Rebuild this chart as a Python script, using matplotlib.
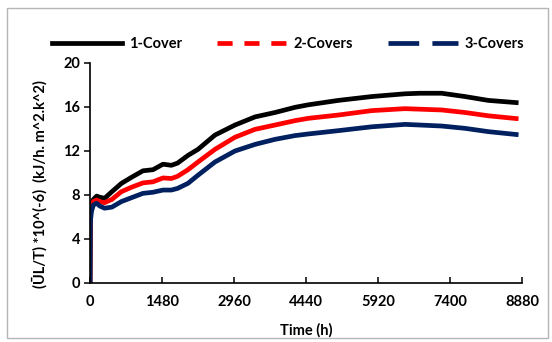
import matplotlib
matplotlib.use("Agg")
import matplotlib.pyplot as plt
from matplotlib.lines import Line2D
from matplotlib.patches import Rectangle

# Hourly time axis (h) and overall heat-loss parameter for each cover arrangement
hours = [0, 8, 30, 70, 137, 200, 300, 450, 644, 850, 1089, 1295, 1500, 1672,
         1800, 2014, 2220, 2569, 2980, 3392, 3803, 4214, 4488, 5105, 5790,
         6475, 6783, 7229, 7708, 8187, 8760]
one_cover = [0, 6.4, 7.2, 7.6, 7.9, 7.8, 7.7, 8.3, 9.05, 9.6, 10.2, 10.3, 10.8,
             10.7, 10.9, 11.6, 12.15, 13.45, 14.36, 15.1, 15.5, 15.97, 16.2,
             16.6, 16.95, 17.2, 17.25, 17.25, 16.95, 16.6, 16.4]
two_covers = [0, 6.0, 7.0, 7.4, 7.55, 7.4, 7.3, 7.6, 8.3, 8.7, 9.1, 9.2, 9.55,
              9.5, 9.7, 10.3, 11.0, 12.15, 13.25, 13.97, 14.36, 14.76, 14.97,
              15.27, 15.67, 15.85, 15.8, 15.73, 15.5, 15.2, 14.95]
three_covers = [0, 5.6, 6.5, 7.1, 7.25, 7.0, 6.8, 6.9, 7.4, 7.75, 8.15, 8.25,
                8.45, 8.45, 8.6, 9.06, 9.8, 11.0, 12.0, 12.6, 13.06, 13.4,
                13.55, 13.85, 14.2, 14.42, 14.36, 14.27, 14.06, 13.76, 13.5]

series_names = ["1-Cover", "2-Covers", "3-Covers"]
x_ticks = [0, 1480, 2960, 4440, 5920, 7400, 8880]
y_ticks = [0, 4, 8, 12, 16, 20]

plt.rcParams["font.family"] = ["Lato", "DejaVu Sans"]
plt.rcParams["font.weight"] = "bold"
FS = 10.5

W, H = 552, 342
fig = plt.figure(figsize=(W / 100, H / 100), dpi=100)
fig.patch.set_facecolor("white")

# light frame round the whole chart area
fig.patches.append(Rectangle((7 / W, 4 / H), 541 / W, 330 / H,
                             transform=fig.transFigure, fill=False,
                             edgecolor="#b5b5b5", linewidth=1.0))

ax = fig.add_axes([90 / W, 1 - 283 / H, 432 / W, 220 / H])

black, red, navy = "#000000", "#ff0000", "#002060"
lw = 3.4
ax.plot(hours, one_cover, color=black, lw=lw, solid_joinstyle="round")
ax.plot(hours, two_covers, color=red, lw=lw, solid_joinstyle="round")
ax.plot(hours, three_covers, color=navy, lw=lw, solid_joinstyle="round")

ax.set_xlim(0, 8880)
ax.set_ylim(0, 20)
ax.set_xticks(x_ticks)
ax.set_yticks(y_ticks)
ax.set_xticklabels([str(v) for v in x_ticks], fontsize=FS, fontweight="bold")
ax.set_yticklabels([str(v) for v in y_ticks], fontsize=FS, fontweight="bold")
ax.tick_params(axis="y", direction="out", length=4, width=1.1, pad=3)
ax.tick_params(axis="x", direction="in", length=4, width=1.1, pad=9)
for side in ("top", "right"):
    ax.spines[side].set_visible(False)
for side in ("left", "bottom"):
    ax.spines[side].set_linewidth(1.2)

fig.text(306 / W, 1 - 330 / H, "Time (h)", ha="center", va="center",
         fontsize=FS, fontweight="bold")
fig.text(40 / W, 1 - 184 / H, "(ŪL/T) *10^(-6)  (kJ/h. m^2.k^2)",
         ha="center", va="center", rotation=90, fontsize=FS,
         fontweight="bold")

handles = [
    Line2D([], [], color=black, lw=lw),
    Line2D([], [], color=red, lw=lw, linestyle=(0, (3.2, 2.5))),
    Line2D([], [], color=navy, lw=lw, linestyle=(0, (6.5, 2.8))),
]
fig.legend(handles, series_names, loc="center", ncol=3,
           bbox_to_anchor=(288 / W, 1 - 44 / H), frameon=False,
           handlelength=4.8, handletextpad=0.45, columnspacing=2.4,
           prop={"size": FS, "weight": "bold"})

fig.savefig("out.png", dpi=100, facecolor="white")
